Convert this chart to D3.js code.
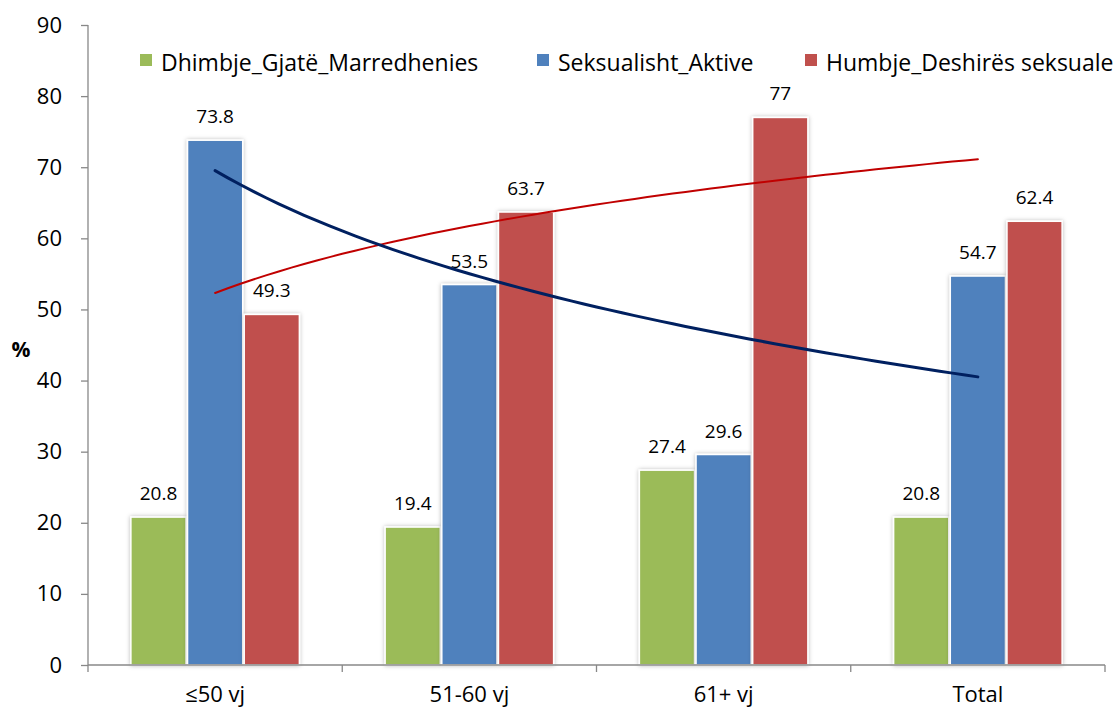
<!DOCTYPE html>
<html><head><meta charset="utf-8">
<script src="https://cdn.jsdelivr.net/npm/d3@7"></script>
<style>body{margin:0;background:#fff}svg{display:block}</style>
</head><body>
<svg id="c" width="1115" height="711"></svg>
<script>
const categories = ["≤50 vj", "51-60 vj", "61+ vj", "Total"];
const seriesNames = ["Dhimbje_Gjatë_Marredhenies", "Seksualisht_Aktive", "Humbje_Deshirës seksuale"];
const dhimbje = [20.8, 19.4, 27.4, 20.8];
const aktive = [73.8, 53.5, 29.6, 54.7];
const humbje = [49.3, 63.7, 77, 62.4];
const yTicks = [0, 10, 20, 30, 40, 50, 60, 70, 80, 90];
const colors = ["#9BBB59", "#4F81BD", "#C0504D"];
const trendColors = {aktive: "#002060", humbje: "#C00000"};

const FONT = "'Open Sans', sans-serif";
const series = [dhimbje, aktive, humbje];
const svg = d3.select("#c");
const x = d3.scaleBand().domain(categories).range([88, 1105]);
const y = d3.scaleLinear().domain([0, 90]).range([665, 25]);
const xs = d3.scaleBand().domain([0,1,2]).range([0, 170]);

const defs = svg.append("defs");
const f = defs.append("filter").attr("id","sh").attr("x","-20%").attr("y","-5%").attr("width","140%").attr("height","110%");
f.append("feDropShadow").attr("dx",0).attr("dy",0).attr("stdDeviation",2.2).attr("flood-color","#000").attr("flood-opacity",0.28);

// Y axis
const ya = svg.append("g").attr("transform","translate(88,0)")
  .call(d3.axisLeft(y).tickValues(yTicks).tickSize(7).tickPadding(19));
ya.select(".domain").attr("stroke","#888").attr("stroke-width",1.3).attr("d","M0,25V665");
ya.selectAll(".tick line").attr("stroke","#888").attr("stroke-width",1.3);
ya.selectAll("text").attr("font-family",FONT).attr("font-size","22px").attr("fill","#000");

// bars
categories.forEach((c, i) => {
  const g = svg.append("g").attr("transform", `translate(${x(c) + (x.bandwidth()-170)/2},0)`);
  series.forEach((s, k) => {
    g.append("rect")
      .attr("x", xs(k)+0.75).attr("width", xs.bandwidth()-1.5)
      .attr("y", y(s[i])).attr("height", y(0)-y(s[i]))
      .attr("fill", colors[k]).attr("stroke","#fff").attr("stroke-width",1.5)
      .attr("filter","url(#sh)");
    g.append("text")
      .attr("x", xs(k)+xs.bandwidth()/2).attr("y", y(s[i]) - 17)
      .attr("text-anchor","middle").attr("font-family",FONT).attr("font-size","19px")
      .attr("fill","#000").text(s[i]);
  });
});

// X axis
const xa = svg.append("g").attr("transform","translate(0,665)")
  .call(d3.axisBottom(x).tickSize(0).tickPadding(0));
xa.select(".domain").attr("stroke","#888").attr("stroke-width",1.3).attr("d","M88,0H1105");
xa.selectAll("text").attr("dy",null).attr("y",37).attr("font-family",FONT).attr("font-size","22px").attr("fill","#000");
const bounds = categories.map(c => x(c)).concat([x.range()[1]]);
svg.append("g").selectAll("line").data(bounds).join("line")
  .attr("x1", d=>d).attr("x2", d=>d).attr("y1",665).attr("y2",672)
  .attr("stroke","#888").attr("stroke-width",1.3);

// logarithmic trend lines (least squares fit on ln(index))
function logFit(vals){
  const lx = vals.map((v,i)=>Math.log(i+1));
  const mx = d3.mean(lx), my = d3.mean(vals);
  const a = d3.sum(lx.map((l,i)=>(l-mx)*(vals[i]-my))) / d3.sum(lx.map(l=>(l-mx)*(l-mx)));
  const b = my - a*mx;
  return t => a*Math.log(t)+b;
}
const tx = d3.scaleLinear().domain([1,4]).range([x(categories[0])+x.bandwidth()/2, x(categories[3])+x.bandwidth()/2]);
const ts = d3.range(1, 4.0001, 0.05);
const line = d3.line().x(d=>tx(d[0])).y(d=>y(d[1]));
[[humbje, trendColors.humbje, 2],[aktive, trendColors.aktive, 3]].forEach(([vals,col,w])=>{
  const fn = logFit(vals);
  svg.append("path").datum(ts.map(t=>[t, fn(t)])).attr("d", line)
    .attr("fill","none").attr("stroke",col).attr("stroke-width",w).attr("stroke-linecap","round");
});

// % label
svg.append("text").attr("x",21).attr("y",357).attr("text-anchor","middle")
  .attr("font-family",FONT).attr("font-weight","bold").attr("font-size","21px").text("%");

// legend
const legX = [140, 537, 805];
seriesNames.forEach((n,k)=>{
  svg.append("rect").attr("x",legX[k]).attr("y",54).attr("width",12).attr("height",12).attr("fill",colors[k]);
  svg.append("text").attr("x",legX[k]+21).attr("y",71).attr("font-family",FONT)
    .attr("font-size","23px").attr("fill","#000").text(n);
});
</script>
</body></html>
